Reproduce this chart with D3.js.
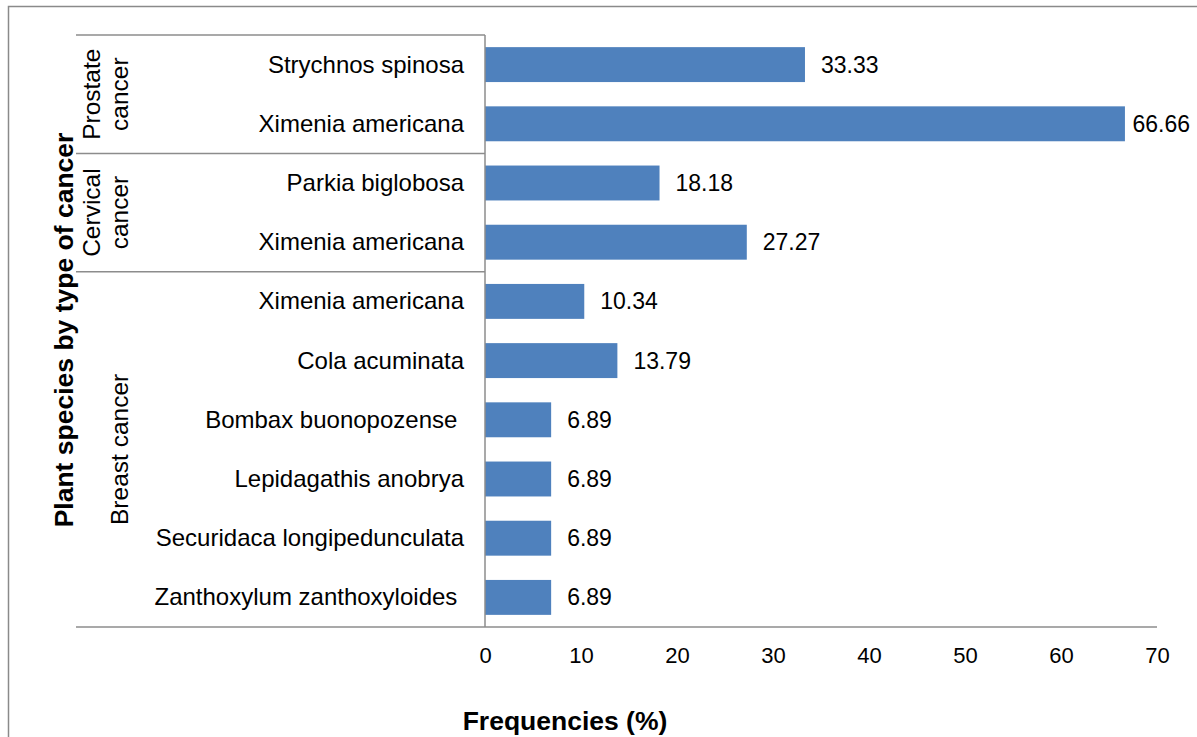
<!DOCTYPE html>
<html>
<head>
<meta charset="utf-8">
<script src="https://cdn.jsdelivr.net/npm/d3@7"></script>
<style>
  html, body { margin: 0; padding: 0; background: #fff; }
  svg { display: block; font-family: Arial, "Liberation Sans", sans-serif; }
  text { white-space: pre; }
</style>
</head>
<body>
<svg id="chart" width="1197" height="737"></svg>
<script>
// Species rows, top to bottom, with the frequency (%) of each
const species = [
  "Strychnos spinosa",
  "Ximenia americana",
  "Parkia biglobosa",
  "Ximenia americana",
  "Ximenia americana",
  "Cola acuminata",
  "Bombax buonopozense ",
  "Lepidagathis anobrya",
  "Securidaca longipedunculata",
  "Zanthoxylum zanthoxyloides "
];
const frequencies = [33.33, 66.66, 18.18, 27.27, 10.34, 13.79, 6.89, 6.89, 6.89, 6.89];
const valueLabels = ["33.33", "66.66", "18.18", "27.27", "10.34", "13.79", "6.89", "6.89", "6.89", "6.89"];

// Cancer groups: label lines, first row index and row count
const groupNames = [["Prostate", "cancer"], ["Cervical", "cancer"], ["Breast cancer"]];
const groupStart = [0, 2, 4];
const groupSize = [2, 2, 6];

const xTicks = [0, 10, 20, 30, 40, 50, 60, 70];
const xTitle = "Frequencies (%)";
const yTitle = "Plant species by type of cancer";

const svg = d3.select("#chart");
const plotLeft = 485, plotRight = 1157, plotTop = 35, plotBottom = 627;
const tableLeft = 76;
const lineColor = "#8c8c8c";

const x = d3.scaleLinear().domain([0, 70]).range([plotLeft, plotRight]);
const y = d3.scaleBand().domain(d3.range(species.length)).range([plotTop, plotBottom])
  .paddingInner(0.41).paddingOuter(0.205);
const rowH = (plotBottom - plotTop) / species.length;

// outer frame
svg.append("rect").attr("x", 8.5).attr("y", 6.5).attr("width", 1250).attr("height", 800)
  .attr("fill", "none").attr("stroke", "#8a8a8a").attr("stroke-width", 1.5);

// bars
svg.append("g").selectAll("rect").data(frequencies).join("rect")
  .attr("x", x(0))
  .attr("y", (d, i) => y(i))
  .attr("width", d => x(d) - x(0))
  .attr("height", y.bandwidth())
  .attr("fill", "#4f81bd");

// table lines around the category block
const grid = svg.append("g").attr("stroke", lineColor).attr("stroke-width", 1.5).attr("fill", "none");
grid.append("line").attr("x1", tableLeft).attr("x2", plotLeft).attr("y1", plotTop).attr("y2", plotTop);
groupStart.slice(1).forEach(s => {
  const yy = plotTop + s * rowH;
  grid.append("line").attr("x1", tableLeft).attr("x2", plotLeft).attr("y1", yy).attr("y2", yy);
});
grid.append("line").attr("x1", plotLeft).attr("x2", plotLeft).attr("y1", plotTop).attr("y2", plotBottom);
grid.append("line").attr("x1", tableLeft).attr("x2", plotRight).attr("y1", plotBottom).attr("y2", plotBottom);

// x axis tick labels
const xAxis = d3.axisBottom(x).tickValues(xTicks).tickSize(0).tickPadding(0);
const ax = svg.append("g").attr("transform", `translate(0,${plotBottom})`).call(xAxis);
ax.select(".domain").remove();
ax.selectAll("text").attr("dy", null).attr("y", 36)
  .attr("font-size", 22).attr("font-family", "Arial, 'Liberation Sans', sans-serif").attr("fill", "#000");

// species labels
svg.append("g").selectAll("text").data(species).join("text")
  .attr("x", 464)
  .attr("y", (d, i) => y(i) + y.bandwidth() / 2 + 8)
  .attr("text-anchor", "end")
  .attr("font-size", 24)
  .text(d => d);

// value labels
svg.append("g").selectAll("text").data(frequencies).join("text")
  .attr("y", (d, i) => y(i) + y.bandwidth() / 2 + 8)
  .attr("font-size", 23)
  .text((d, i) => valueLabels[i])
  .each(function (d) {
    const w = this.getComputedTextLength();
    let tx = x(d) + 16;
    if (tx + w > 1190) tx = 1190 - w;
    d3.select(this).attr("x", tx);
  });

// group labels (rotated)
groupNames.forEach((lines, g) => {
  const cy = plotTop + (groupStart[g] + groupSize[g] / 2) * rowH;
  const baseX = lines.length === 2 ? 100 : 128;
  lines.forEach((ln, k) => {
    const bx = baseX + k * 28;
    svg.append("text")
      .attr("transform", `translate(${bx},${cy}) rotate(-90)`)
      .attr("text-anchor", "middle")
      .attr("font-size", 24.5)
      .text(ln);
  });
});

// axis titles
svg.append("text").attr("x", 565).attr("y", 730).attr("text-anchor", "middle")
  .attr("font-size", 26.5).attr("font-weight", "bold").text(xTitle);
svg.append("text").attr("transform", "translate(73,330) rotate(-90)").attr("text-anchor", "middle")
  .attr("font-size", 26.5).attr("font-weight", "bold").text(yTitle);
</script>
</body>
</html>
